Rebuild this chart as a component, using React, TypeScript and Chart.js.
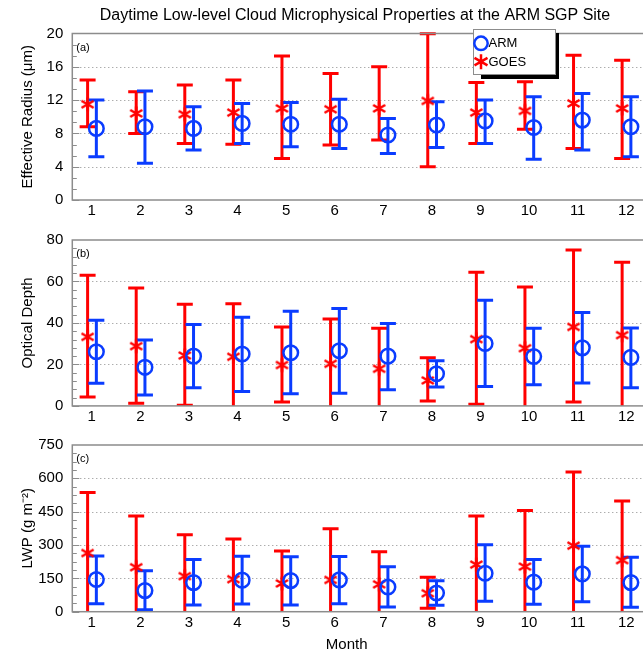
import React, { useEffect, useRef } from 'react';
import { Chart, registerables } from 'chart.js';

Chart.register(...registerables);

// ---------------- data ----------------
const months = [1, 2, 3, 4, 5, 6, 7, 8, 9, 10, 11, 12];
const monthTickLabels = ['1', '2', '3', '4', '5', '6', '7', '8', '9', '10', '11', '12'];

// (a) Effective radius (um)
const reGoesMean = [11.5, 10.4, 10.3, 10.5, 11.0, 10.9, 11.0, 11.9, 10.5, 10.7, 11.6, 11.0];
const reGoesHigh = [14.4, 13.0, 13.8, 14.4, 17.3, 15.2, 16.0, 19.96, 14.1, 14.2, 17.4, 16.8];
const reGoesLow = [8.8, 8.0, 6.8, 6.7, 5.0, 6.6, 7.2, 4.0, 6.8, 8.5, 6.2, 5.0];
const reArmMean = [8.6, 8.8, 8.6, 9.2, 9.1, 9.1, 7.8, 9.0, 9.5, 8.7, 9.6, 8.8];
const reArmHigh = [12.0, 13.1, 11.2, 11.6, 11.7, 12.1, 9.8, 11.8, 12.0, 12.4, 12.8, 12.4];
const reArmLow = [5.2, 4.4, 6.0, 6.8, 6.4, 6.2, 5.6, 6.3, 6.8, 4.9, 6.0, 5.2];
const reTicks = [0, 4, 8, 12, 16, 20];

// (b) Optical depth
const tauGoesMean = [33.3, 28.8, 24.3, 23.7, 19.7, 20.3, 17.9, 12.3, 32.2, 27.8, 38.1, 34.1];
const tauGoesHigh = [63.0, 56.8, 49.0, 49.3, 38.1, 41.9, 37.4, 23.2, 64.5, 57.3, 75.2, 69.3];
const tauGoesLow = [4.3, 1.3, 0.3, -3, 1.9, -3, -3, 2.4, 0.8, -3, 1.9, -3];
const tauArmMean = [26.1, 18.6, 24.0, 25.0, 25.6, 26.6, 24.0, 15.5, 30.1, 23.8, 28.0, 23.4];
const tauArmHigh = [41.3, 31.8, 39.2, 42.7, 45.6, 47.0, 39.7, 21.8, 51.0, 37.4, 45.0, 37.6];
const tauArmLow = [10.9, 5.3, 8.8, 6.9, 5.9, 6.1, 7.8, 9.1, 9.3, 10.2, 11.0, 8.8];
const tauTicks = [0, 20, 40, 60, 80];

// (c) LWP (g m-2)
const lwpGoesMean = [264, 200, 160, 146, 127, 143, 123, 83, 212, 203, 297, 232];
const lwpGoesHigh = [536, 431, 346, 327, 273, 373, 270, 155, 431, 455, 628, 498];
const lwpGoesLow = [-30, -30, -30, -30, -30, -30, -30, 15, -30, -30, -30, -30];
const lwpArmMean = [145, 95, 131, 142, 140, 143, 111, 84, 173, 133, 170, 131];
const lwpArmHigh = [251, 184, 235, 250, 247, 248, 202, 139, 301, 235, 294, 245];
const lwpArmLow = [36, 9, 30, 35, 30, 36, 21, 29, 47, 33, 45, 20];
const lwpTicks = [0, 150, 300, 450, 600, 750];

const chartTitle = 'Daytime Low-level Cloud Microphysical Properties at the ARM SGP Site';
const xAxisTitle = 'Month';
const legendLabels = ['ARM', 'GOES'];

// ---------------- styling ----------------
const FONT = "'Liberation Sans', Arial, Helvetica, sans-serif";
const RED = '#ff0000';
const BLUE = '#0a3cff';
const FRAME = '#8c8c8c';
const CANVAS_W = 720;
const PLOT_LEFT = 72.3;
const PLOT_RIGHT = 645.7;
const GOES_OFF = -0.085;
const ARM_OFF = 0.095;

type Panel = {
  tag: string;
  yTitle: string;
  ticks: number[];
  minorPerMajor: number;
  goesMean: number[]; goesLow: number[]; goesHigh: number[];
  armMean: number[]; armLow: number[]; armHigh: number[];
  canvasTop: number; canvasHeight: number; padTop: number; xScaleHeight: number;
  titleRight: number; // right end of the full-width title box (title centred in [0, titleRight])
  topTitle: boolean; bottomTitle: boolean; showLegend: boolean;
};

const panels: Panel[] = [
  {
    tag: '(a)', yTitle: 'Effective Radius (μm)', ticks: reTicks, minorPerMajor: 3,
    goesMean: reGoesMean, goesLow: reGoesLow, goesHigh: reGoesHigh,
    armMean: reArmMean, armLow: reArmLow, armHigh: reArmHigh,
    canvasTop: 0, canvasHeight: 222, padTop: 0, xScaleHeight: 22, titleRight: 710,
    topTitle: true, bottomTitle: false, showLegend: true,
  },
  {
    tag: '(b)', yTitle: 'Optical Depth', ticks: tauTicks, minorPerMajor: 5,
    goesMean: tauGoesMean, goesLow: tauGoesLow, goesHigh: tauGoesHigh,
    armMean: tauArmMean, armLow: tauArmLow, armHigh: tauArmHigh,
    canvasTop: 222, canvasHeight: 205, padTop: 17.2, xScaleHeight: 21.1, titleRight: PLOT_RIGHT,
    topTitle: false, bottomTitle: false, showLegend: false,
  },
  {
    tag: '(c)', yTitle: 'LWP (g m⁻²)', ticks: lwpTicks, minorPerMajor: 4,
    goesMean: lwpGoesMean, goesLow: lwpGoesLow, goesHigh: lwpGoesHigh,
    armMean: lwpArmMean, armLow: lwpArmLow, armHigh: lwpArmHigh,
    canvasTop: 427, canvasHeight: 227, padTop: 18, xScaleHeight: 24.3, titleRight: 693.4,
    topTitle: false, bottomTitle: true, showLegend: false,
  },
];

function strokeAsterisk(ctx: CanvasRenderingContext2D, x: number, y: number, r: number) {
  ctx.beginPath();
  [90, 30, -30].forEach((deg) => {
    const a = (deg * Math.PI) / 180;
    const dx = Math.cos(a) * r, dy = Math.sin(a) * r;
    ctx.moveTo(x - dx, y - dy);
    ctx.lineTo(x + dx, y + dy);
  });
  ctx.stroke();
}

function makeAsteriskImage(r: number, lw: number, color: string): HTMLCanvasElement {
  const size = Math.ceil(2 * r + lw + 2);
  const c = document.createElement('canvas');
  c.width = size;
  c.height = size;
  const ctx = c.getContext('2d') as CanvasRenderingContext2D;
  ctx.strokeStyle = color;
  ctx.lineWidth = lw;
  strokeAsterisk(ctx, size / 2, size / 2, r);
  return c;
}

function makePlugin(p: Panel) {
  return {
    id: 'panelDecor',
    beforeDatasetsDraw(chart: any) {
      const { ctx, chartArea: a, scales } = chart;
      const xs = scales.x, ys = scales.y;
      const ymax = p.ticks[p.ticks.length - 1];
      ctx.save();
      ctx.strokeStyle = '#8a8a8a';
      ctx.lineWidth = 1;
      ctx.setLineDash([1, 3]);
      p.ticks.forEach((v) => {
        if (v <= 0 || v >= ymax) return;
        const y = Math.round(ys.getPixelForValue(v)) + 0.5;
        ctx.beginPath();
        ctx.moveTo(a.left, y);
        ctx.lineTo(a.right, y);
        ctx.stroke();
      });
      ctx.restore();
      ctx.save();
      ctx.beginPath();
      ctx.rect(a.left, a.top - 2, a.right - a.left, a.bottom - a.top + 2);
      ctx.clip();
      const series = [
        { off: GOES_OFF, lo: p.goesLow, hi: p.goesHigh, color: RED },
        { off: ARM_OFF, lo: p.armLow, hi: p.armHigh, color: BLUE },
      ];
      series.forEach((s) => {
        ctx.strokeStyle = s.color;
        ctx.lineWidth = 3;
        months.forEach((m, i) => {
          const x = xs.getPixelForValue(m + s.off);
          const y0 = ys.getPixelForValue(s.lo[i]);
          const y1 = ys.getPixelForValue(s.hi[i]);
          ctx.beginPath();
          ctx.moveTo(x, y0);
          ctx.lineTo(x, y1);
          ctx.moveTo(x - 8, y0);
          ctx.lineTo(x + 8, y0);
          ctx.moveTo(x - 8, y1);
          ctx.lineTo(x + 8, y1);
          ctx.stroke();
        });
      });
      ctx.restore();
    },
    afterDatasetsDraw(chart: any) {
      const { ctx, chartArea: a, scales } = chart;
      const ys = scales.y;
      ctx.save();
      ctx.strokeStyle = FRAME;
      ctx.lineWidth = 1;
      for (let j = 0; j < p.ticks.length - 1; j++) {
        const t0 = p.ticks[j], t1 = p.ticks[j + 1];
        for (let k = 0; k < p.minorPerMajor; k++) {
          const v = t0 + ((t1 - t0) * k) / p.minorPerMajor;
          const y = Math.round(ys.getPixelForValue(v)) + 0.5;
          const len = k === 0 ? 7 : 4.5;
          ctx.beginPath();
          ctx.moveTo(a.left, y);
          ctx.lineTo(a.left + len, y);
          ctx.stroke();
        }
      }
      ctx.lineWidth = 1.5;
      ctx.strokeRect(a.left, a.top, a.right - a.left, a.bottom - a.top);
      ctx.fillStyle = '#000';
      ctx.font = `11px ${FONT}`;
      ctx.textAlign = 'left';
      ctx.textBaseline = 'middle';
      ctx.fillText(p.tag, a.left + 4, a.top + 14);
      ctx.restore();
    },
    afterDraw(chart: any) {
      if (!p.showLegend) return;
      const { ctx } = chart;
      const bx0 = 473, by0 = 29, bx1 = 556, by1 = 75;
      ctx.save();
      ctx.fillStyle = '#000';
      ctx.fillRect(bx0 + 8, by0 + 4, bx1 - bx0 - 5, by1 - by0);
      ctx.fillStyle = '#fff';
      ctx.fillRect(bx0, by0, bx1 - bx0, by1 - by0);
      ctx.strokeStyle = FRAME;
      ctx.lineWidth = 1;
      ctx.strokeRect(bx0 + 0.5, by0 + 0.5, bx1 - bx0 - 1, by1 - by0 - 1);
      ctx.strokeStyle = BLUE;
      ctx.lineWidth = 2.5;
      ctx.beginPath();
      ctx.arc(481, 43.3, 6.7, 0, Math.PI * 2);
      ctx.stroke();
      ctx.strokeStyle = RED;
      strokeAsterisk(ctx, 481, 61.7, 7.5);
      ctx.fillStyle = '#000';
      ctx.font = `13px ${FONT}`;
      ctx.textAlign = 'left';
      ctx.textBaseline = 'middle';
      ctx.fillText(legendLabels[0], 488.5, 43.5);
      ctx.fillText(legendLabels[1], 488.5, 62);
      ctx.restore();
    },
  };
}

function buildConfig(p: Panel, asterisk: HTMLCanvasElement): any {
  const ymax = p.ticks[p.ticks.length - 1];
  const spacerWidth = p.titleRight - PLOT_RIGHT;
  return {
    type: 'scatter',
    data: {
      datasets: [
        {
          label: legendLabels[0],
          data: months.map((m, i) => ({ x: m + ARM_OFF, y: p.armMean[i] })),
          pointStyle: 'circle',
          radius: 7.3,
          borderWidth: 2.5,
          borderColor: BLUE,
          backgroundColor: 'rgba(0,0,0,0)',
          showLine: false,
        },
        {
          label: legendLabels[1],
          data: months.map((m, i) => ({ x: m + GOES_OFF, y: p.goesMean[i] })),
          pointStyle: asterisk,
          radius: 7,
          borderWidth: 2.5,
          borderColor: RED,
          backgroundColor: RED,
          showLine: false,
        },
      ],
    },
    options: {
      responsive: false,
      animation: false,
      devicePixelRatio: 1,
      layout: {
        padding: { top: p.padTop, left: 0, right: CANVAS_W - p.titleRight, bottom: 0 },
      },
      plugins: {
        legend: { display: false },
        tooltip: { enabled: false },
        title: {
          display: p.topTitle || p.bottomTitle,
          text: p.topTitle ? chartTitle : xAxisTitle,
          position: p.topTitle ? 'top' : 'bottom',
          fullSize: true,
          color: '#000',
          font: { family: FONT, size: p.topTitle ? 16 : 15, weight: 'normal', lineHeight: 1.2 },
          padding: p.topTitle ? { top: 6, bottom: 8.3 } : { top: 0, bottom: 0 },
        },
      },
      scales: {
        x: {
          type: 'linear',
          min: 0.6,
          max: 12.4,
          grid: { display: false, drawTicks: false },
          border: { display: false },
          afterBuildTicks: (scale: any) => {
            scale.ticks = months.map((v) => ({ value: v }));
          },
          afterFit: (scale: any) => {
            scale.height = p.xScaleHeight;
          },
          ticks: {
            padding: 2,
            color: '#000',
            maxRotation: 0,
            autoSkip: false,
            font: { family: FONT, size: 15, lineHeight: 1.2 },
            callback: (v: number) => monthTickLabels[months.indexOf(v)] ?? '',
          },
        },
        y: {
          type: 'linear',
          min: 0,
          max: ymax,
          grid: { display: false, drawTicks: false },
          border: { display: false },
          afterBuildTicks: (scale: any) => {
            scale.ticks = p.ticks.map((v) => ({ value: v }));
          },
          afterFit: (scale: any) => {
            scale.width = PLOT_LEFT;
          },
          ticks: {
            padding: 9,
            color: '#000',
            font: { family: FONT, size: 15, lineHeight: 1.2 },
            callback: (v: number) => String(v),
          },
          title: {
            display: true,
            text: p.yTitle,
            color: '#000',
            font: { family: FONT, size: 15, lineHeight: 1.2 },
            padding: { top: 19.3, bottom: 0 },
          },
        },
        spacer: {
          type: 'linear',
          position: 'right',
          display: spacerWidth > 0.5,
          grid: { display: false, drawTicks: false },
          border: { display: false },
          ticks: { display: false },
          afterFit: (scale: any) => {
            scale.width = spacerWidth;
          },
        },
      },
    },
    plugins: [makePlugin(p)],
  };
}

export default function App() {
  const refs = useRef<(HTMLCanvasElement | null)[]>([]);
  useEffect(() => {
    const asterisk = makeAsteriskImage(7, 2.5, RED);
    const charts = panels.map(
      (p, i) => new Chart(refs.current[i] as HTMLCanvasElement, buildConfig(p, asterisk)),
    );
    return () => charts.forEach((c) => c.destroy());
  }, []);
  return (
    <div
      style={{
        position: 'absolute', left: 0, top: 0, width: 643, height: 654,
        overflow: 'hidden', background: '#fff',
      }}
    >
      {panels.map((p, i) => (
        <canvas
          key={p.tag}
          ref={(el) => { refs.current[i] = el; }}
          width={CANVAS_W}
          height={p.canvasHeight}
          style={{ position: 'absolute', left: 0, top: p.canvasTop, display: 'block' }}
        />
      ))}
    </div>
  );
}
